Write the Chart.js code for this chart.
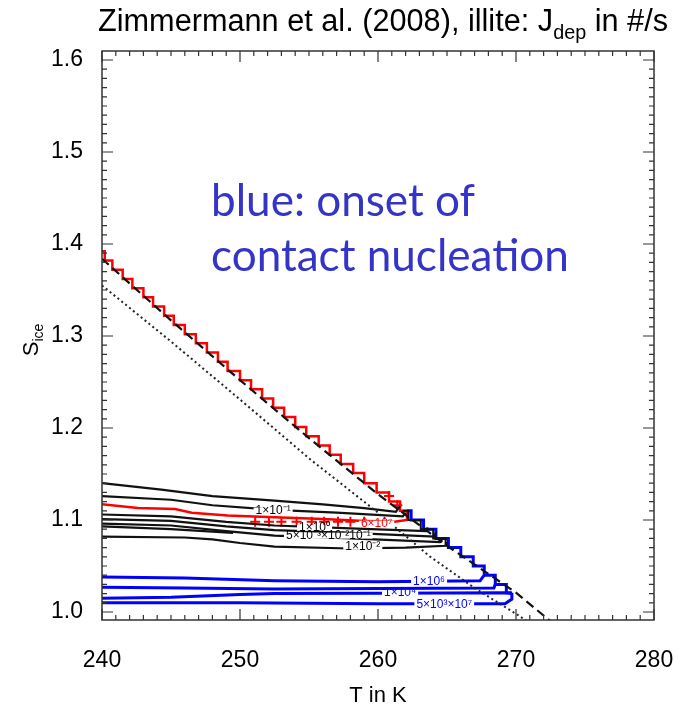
<!DOCTYPE html>
<html>
<head>
<meta charset="utf-8">
<script src="https://cdn.jsdelivr.net/npm/chart.js@4.4.0/dist/chart.umd.min.js"></script>
<style>
  html, body { margin: 0; padding: 0; background: #fff; }
  #wrap { width: 675px; height: 705px; }
</style>
</head>
<body>
<div id="wrap"><canvas id="jdepChart" width="675" height="705"></canvas></div>
<script>
// axis ticks
const xTickValues = [240, 250, 260, 270, 280];
const yTickValues = [1.0, 1.1, 1.2, 1.3, 1.4, 1.5, 1.6];

// water saturation (dashed) and the dotted reference line
const waterSatT = [240, 245, 250, 255, 260, 265, 270, 272.5];
const waterSatS = [1.384, 1.317, 1.252, 1.189, 1.128, 1.072, 1.021, 0.990];
const dottedT = [240, 245, 250, 255, 260, 263.7, 267, 270, 270.8];
const dottedS = [1.355, 1.294, 1.231, 1.167, 1.108, 1.061, 1.026, 0.998, 0.990];

// red contour: staircase along water saturation + lower branch
const redStepT = [240, 240.2, 240.75, 241.5, 242.2, 243.0, 243.7, 244.5, 245.2, 246.0, 246.8, 247.6, 248.4, 249.1, 250.0,
                  250.8, 251.6, 252.4, 253.2, 254.0, 254.8, 255.7, 256.5, 257.3, 258.2, 259.0, 259.9, 260.8, 261.6, 262.1];
const redStepS = [1.392, 1.382, 1.372, 1.362, 1.352, 1.342, 1.332, 1.322, 1.312, 1.302, 1.292, 1.282, 1.272, 1.262, 1.252,
                  1.242, 1.232, 1.222, 1.212, 1.201, 1.191, 1.181, 1.171, 1.161, 1.151, 1.140, 1.130, 1.120, 1.110, 1.110];
const redLowT = [262.1, 262.1, 261.2, 259, 256, 252.5, 249.1, 246.5, 245.3, 242.6, 240];
const redLowS = [1.110, 1.100, 1.098, 1.099, 1.101, 1.103, 1.105, 1.108, 1.112, 1.113, 1.117];
const redPlusT = [251.1, 252.1, 253.0, 254.1, 255.2, 256.1, 257.1, 258.0, 259.0, 260.8, 261.4];
const redPlusS = [1.098, 1.098, 1.098, 1.098, 1.098, 1.098, 1.098, 1.098, 1.098, 1.126, 1.116];

// blue contours (contact nucleation)
const blueStepT = [262.1, 262.4, 263.3, 264.2, 265.1, 266.0, 266.9, 267.7, 268.5, 269.3, 269.7];
const blueStepS = [1.110, 1.100, 1.090, 1.080, 1.070, 1.060, 1.050, 1.040, 1.030, 1.021, 1.021];
const blueAT = [240, 246, 252.5, 260, 267.4, 267.7];
const blueAS = [1.038, 1.037, 1.034, 1.033, 1.034, 1.040];
const blueBT = [240, 246, 252.5, 260, 268.4, 268.5];
const blueBS = [1.027, 1.026, 1.025, 1.0255, 1.026, 1.030];
const blueCT = [240, 245, 250, 252.5, 260, 269.2, 269.7];
const blueCS = [1.015, 1.016, 1.019, 1.020, 1.0205, 1.021, 1.020];
const blueDT = [269.7, 269.7, 269.2, 260, 250, 240];
const blueDS = [1.021, 1.014, 1.009, 1.009, 1.010, 1.010];

// black contours (deposition nucleation rate)
const blackLines = [
  { t: [240, 244.3, 248, 252.5, 256, 259, 261.3, 261.6], s: [1.140, 1.133, 1.126, 1.121, 1.117, 1.113, 1.109, 1.115] },
  { t: [240, 245, 248, 252.5, 257, 261.8, 262.0], s: [1.126, 1.122, 1.116, 1.111, 1.108, 1.104, 1.108] },
  { t: [240, 245, 249, 252.5, 258, 263.5, 263.6], s: [1.106, 1.104, 1.098, 1.094, 1.091, 1.088, 1.092] },
  { t: [240, 245, 249, 252.5, 258, 264.1, 264.2], s: [1.101, 1.099, 1.093, 1.089, 1.086, 1.082, 1.087] },
  { t: [240, 245, 249, 252.5, 258, 264.5, 264.7], s: [1.096, 1.094, 1.088, 1.083, 1.080, 1.076, 1.080] },
  { t: [240, 245, 249.5], s: [1.093, 1.090, 1.086] },
  { t: [240, 246, 248, 250, 252.5, 258, 262, 264.9, 265.0], s: [1.082, 1.081, 1.079, 1.075, 1.071, 1.069, 1.070, 1.072, 1.076] }
];
const blackStepT = [261.8, 262.2, 263.1, 264.0, 264.9];
const blackStepS = [1.110, 1.100, 1.090, 1.080, 1.072];

// contour labels
const labelT = [252.4, 255.4, 256.4, 258.9, 259.9, 263.7, 261.6, 264.8];
const labelS = [1.110, 1.0915, 1.083, 1.071, 1.096, 1.033, 1.0205, 1.008];
const labelText = ['1×10⁻¹', '1×10⁰', '5×10⁻³×10⁻²10⁻¹', '1×10⁻²', '6×10⁷', '1×10⁶', '1×10⁴', '5×10³×10⁷'];
const labelColor = ['#000', '#000', '#000', '#000', '#f00', '#00f', '#00f', '#00f'];

function pts(ts, ss) {
  return ts.map((t, i) => ({ x: t, y: ss[i] }));
}

function lineSet(ts, ss, color, width, extra) {
  return Object.assign({
    data: pts(ts, ss),
    showLine: true,
    borderColor: color,
    borderWidth: width,
    pointRadius: 0,
    fill: false
  }, extra || {});
}

const datasets = [
  lineSet(dottedT, dottedS, '#222', 2, { borderDash: [2, 3] }),
  lineSet(waterSatT, waterSatS, '#111', 2.2, { borderDash: [9, 5] })
];
blackLines.forEach(l => datasets.push(lineSet(l.t, l.s, '#111', 2.2)));
datasets.push(lineSet(blackStepT, blackStepS, '#111', 2, { stepped: true }));
datasets.push(lineSet(redStepT, redStepS, '#ff0000', 2.5, { stepped: true }));
datasets.push(lineSet(redLowT, redLowS, '#ff0000', 2.5));
datasets.push({
  data: pts(redPlusT, redPlusS),
  showLine: false,
  pointStyle: 'cross',
  pointRadius: 5,
  borderColor: '#ff0000',
  borderWidth: 2
});
datasets.push(lineSet(blueStepT, blueStepS, '#0000ff', 3, { stepped: true }));
datasets.push(lineSet(blueAT, blueAS, '#0000ff', 3));
datasets.push(lineSet(blueBT, blueBS, '#0000ff', 3));
datasets.push(lineSet(blueCT, blueCS, '#0000ff', 3));
datasets.push(lineSet(blueDT, blueDS, '#0000ff', 3));

const FONT = '"Liberation Sans", Arial, Helvetica, sans-serif';

// frame with inward ticks, IDL style
const frameTicks = {
  id: 'frameTicks',
  afterDatasetsDraw(chart) {
    const { ctx, chartArea: a, scales: { x, y } } = chart;
    ctx.save();
    ctx.strokeStyle = '#333';
    ctx.lineWidth = 1.5;
    ctx.strokeRect(a.left, a.top, a.right - a.left, a.bottom - a.top);
    ctx.lineWidth = 1.2;
    ctx.beginPath();
    for (let v = 240; v <= 280; v += 1) {
      const px = x.getPixelForValue(v);
      const len = v % 10 === 0 ? 11 : 5;
      ctx.moveTo(px, a.bottom); ctx.lineTo(px, a.bottom - len);
      ctx.moveTo(px, a.top); ctx.lineTo(px, a.top + len);
    }
    for (let k = 100; k <= 160; k += 1) {
      const py = y.getPixelForValue(k / 100);
      const len = k % 10 === 0 ? 11 : 5;
      ctx.moveTo(a.left, py); ctx.lineTo(a.left + len, py);
      ctx.moveTo(a.right, py); ctx.lineTo(a.right - len, py);
    }
    ctx.stroke();
    ctx.restore();
  }
};

const contourLabels = {
  id: 'contourLabels',
  afterDatasetsDraw(chart) {
    const { ctx, scales: { x, y } } = chart;
    ctx.save();
    ctx.font = '12px ' + FONT;
    ctx.textAlign = 'center';
    ctx.textBaseline = 'middle';
    labelText.forEach((txt, i) => {
      const px = x.getPixelForValue(labelT[i]);
      const py = y.getPixelForValue(labelS[i]);
      const w = ctx.measureText(txt).width;
      ctx.fillStyle = '#fff';
      ctx.fillRect(px - w / 2 - 2, py - 3, w + 4, 6);
      ctx.fillStyle = labelColor[i];
      ctx.fillText(txt, px, py);
    });
    ctx.restore();
  }
};

// titles, axis names and the blue note
const texts = {
  id: 'texts',
  afterDraw(chart) {
    const ctx = chart.ctx;
    ctx.save();
    ctx.fillStyle = '#000';
    ctx.textBaseline = 'alphabetic';

    // title with subscript, squeezed to the plot width
    const big = '31px ' + FONT, small = '20px ' + FONT;
    const p1 = 'Zimmermann et al. (2008), illite: J', sub = 'dep', p2 = ' in #/s';
    ctx.font = big; const w1 = ctx.measureText(p1).width, w3 = ctx.measureText(p2).width;
    ctx.font = small; const w2 = ctx.measureText(sub).width;
    const total = w1 + w2 + w3, target = 570;
    ctx.save();
    ctx.translate(98, 31);
    ctx.scale(target / total, 1);
    ctx.textAlign = 'left';
    ctx.font = big; ctx.fillText(p1, 0, 0);
    ctx.font = small; ctx.fillText(sub, w1, 8);
    ctx.font = big; ctx.fillText(p2, w1 + w2, 0);
    ctx.restore();

    // x axis name
    ctx.font = '22px ' + FONT;
    ctx.textAlign = 'center';
    ctx.fillText('T in K', 378, 702);

    // y axis name with subscript
    ctx.save();
    ctx.translate(38, 340);
    ctx.rotate(-Math.PI / 2);
    ctx.textAlign = 'left';
    ctx.font = '22px ' + FONT;
    const sw = ctx.measureText('S').width;
    ctx.font = '14px ' + FONT;
    const iw = ctx.measureText('ice').width;
    const x0 = -(sw + iw) / 2;
    ctx.font = '22px ' + FONT; ctx.fillText('S', x0, 0);
    ctx.font = '14px ' + FONT; ctx.fillText('ice', x0 + sw, 5);
    ctx.restore();

    // note
    ctx.fillStyle = '#3434c8';
    ctx.textAlign = 'left';
    const noteFont = s => s + 'px Lato, "Open Sans", sans-serif';
    ctx.font = noteFont(40);
    const nw = ctx.measureText('contact nucleation').width;
    const size = 40 * 358 / nw;
    ctx.font = noteFont(size);
    ctx.fillText('blue: onset of', 211, 216);
    ctx.fillText('contact nucleation', 211, 271);
    ctx.restore();
  }
};

const ctx = document.getElementById('jdepChart');
new Chart(ctx, {
  type: 'scatter',
  data: { datasets: datasets },
  options: {
    responsive: false,
    animation: false,
    layout: { padding: { top: 51, right: 21, left: 0, bottom: 0 } },
    plugins: {
      legend: { display: false },
      tooltip: { enabled: false },
      title: { display: false }
    },
    elements: { line: { tension: 0 }, point: { radius: 0 } },
    scales: {
      x: {
        type: 'linear',
        min: 240,
        max: 280,
        grid: { display: false, drawTicks: false },
        border: { display: false },
        afterBuildTicks: s => { s.ticks = xTickValues.map(v => ({ value: v })); },
        // fixed axis box, no extra room for the end labels
        afterFit: s => { s.height = 85; s.paddingLeft = 0; s.paddingRight = 0; },
        ticks: {
          color: '#000',
          font: { family: FONT, size: 23 },
          padding: 27,
          maxRotation: 0,
          autoSkip: false,
          callback: v => String(v)
        }
      },
      y: {
        type: 'linear',
        min: 0.9913,
        max: 1.6098,
        grid: { display: false, drawTicks: false },
        border: { display: false },
        afterBuildTicks: s => { s.ticks = yTickValues.map(v => ({ value: v })); },
        afterFit: s => { s.width = 102; s.paddingTop = 0; s.paddingBottom = 0; },
        ticks: {
          color: '#000',
          font: { family: FONT, size: 23 },
          padding: 19,
          autoSkip: false,
          callback: v => v.toFixed(1)
        }
      }
    }
  },
  plugins: [frameTicks, contourLabels, texts]
});
</script>
</body>
</html>
